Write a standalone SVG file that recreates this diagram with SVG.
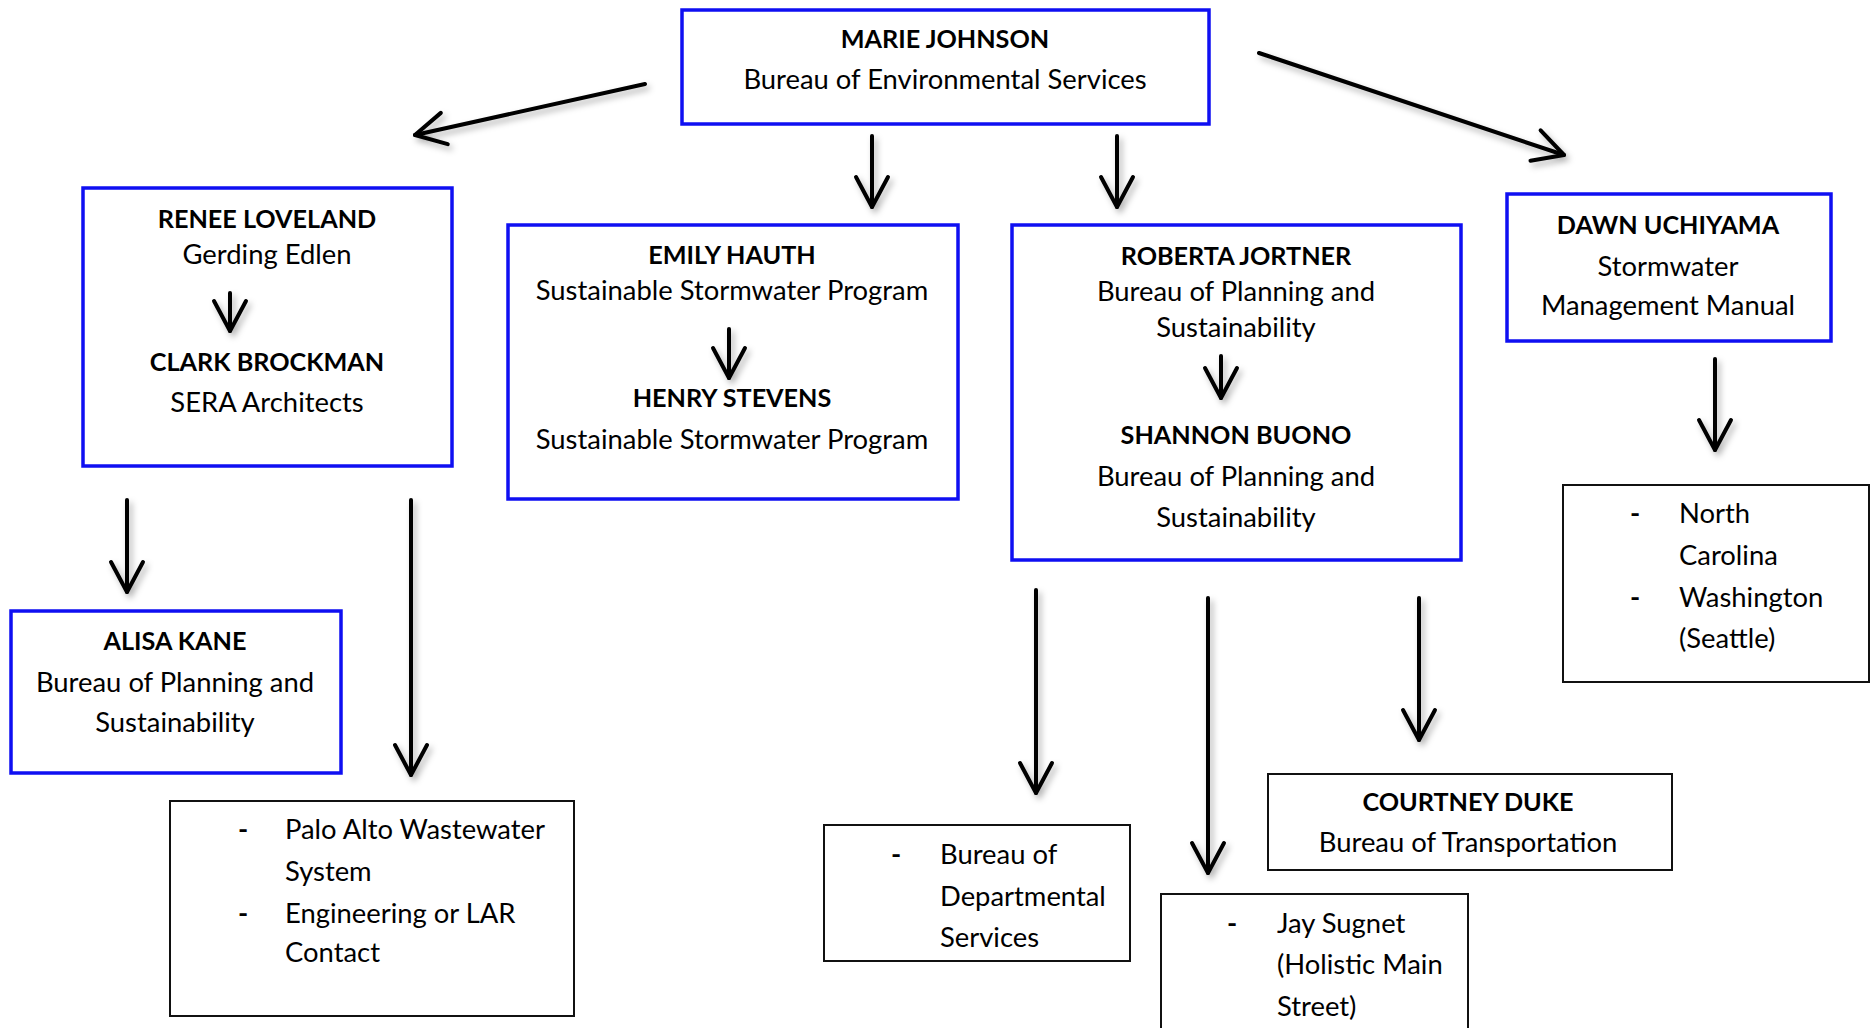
<svg xmlns="http://www.w3.org/2000/svg" width="1875" height="1028" viewBox="0 0 1875 1028">
<style>
.t{font-family:Lato,"Open Sans","Liberation Sans",sans-serif;font-size:27.4px;fill:#000}
.c{text-anchor:middle}
.b{font-weight:700;font-size:25.2px}
.d{font-weight:700}
.blue{fill:#fff;stroke:#0f0ff2;stroke-width:3.5}
.blk{fill:#fff;stroke:#111;stroke-width:2}
.ar{fill:none;stroke:#000;stroke-width:4;stroke-linecap:round;marker-end:url(#v)}
</style>
<defs>
<marker id="v" markerUnits="userSpaceOnUse" viewBox="0 0 40 40" markerWidth="40" markerHeight="40" refX="36" refY="20" orient="auto">
<path d="M6,4 L36,20 L6,36" fill="none" stroke="#000" stroke-width="4" stroke-linecap="round" stroke-linejoin="round"/>
</marker>
<filter id="sh" x="-50%" y="-50%" width="200%" height="200%">
<feDropShadow dx="3" dy="4" stdDeviation="3" flood-color="#000" flood-opacity="0.3"/>
</filter>
</defs>
<rect width="1875" height="1028" fill="#fff"/>

<g id="marie">
<rect class="blue" x="682" y="10" width="527" height="114"/>
<text class="t c b" x="945" y="48">MARIE JOHNSON</text>
<text class="t c" x="945" y="89">Bureau of Environmental Services</text>
</g>

<g id="renee">
<rect class="blue" x="83" y="188" width="369" height="278"/>
<text class="t c b" x="267" y="228">RENEE LOVELAND</text>
<text class="t c" x="267" y="264">Gerding Edlen</text>
<text class="t c b" x="267" y="371">CLARK BROCKMAN</text>
<text class="t c" x="267" y="412">SERA Architects</text>
</g>

<g id="emily">
<rect class="blue" x="508" y="225" width="450" height="274"/>
<text class="t c b" x="732" y="264">EMILY HAUTH</text>
<text class="t c" x="732" y="300">Sustainable Stormwater Program</text>
<text class="t c b" x="732" y="407">HENRY STEVENS</text>
<text class="t c" x="732" y="449">Sustainable Stormwater Program</text>
</g>

<g id="roberta">
<rect class="blue" x="1012" y="225" width="449" height="335"/>
<text class="t c b" x="1236" y="265">ROBERTA JORTNER</text>
<text class="t c" x="1236" y="301">Bureau of Planning and</text>
<text class="t c" x="1236" y="337">Sustainability</text>
<text class="t c b" x="1236" y="444">SHANNON BUONO</text>
<text class="t c" x="1236" y="486">Bureau of Planning and</text>
<text class="t c" x="1236" y="527">Sustainability</text>
</g>

<g id="dawn">
<rect class="blue" x="1507" y="194" width="324" height="147"/>
<text class="t c b" x="1668" y="234">DAWN UCHIYAMA</text>
<text class="t c" x="1668" y="276">Stormwater</text>
<text class="t c" x="1668" y="315">Management Manual</text>
</g>

<g id="alisa">
<rect class="blue" x="11" y="611" width="330" height="162"/>
<text class="t c b" x="175" y="650">ALISA KANE</text>
<text class="t c" x="175" y="692">Bureau of Planning and</text>
<text class="t c" x="175" y="732">Sustainability</text>
</g>

<g id="courtney">
<rect class="blk" x="1268" y="774" width="404" height="96"/>
<text class="t c b" x="1468" y="811">COURTNEY DUKE</text>
<text class="t c" x="1468" y="852">Bureau of Transportation</text>
</g>

<g id="nc-list">
<rect class="blk" x="1563" y="485" width="306" height="197"/>
<text class="t d" x="1630" y="523">-</text>
<text class="t" x="1679" y="523">North</text>
<text class="t" x="1679" y="565">Carolina</text>
<text class="t d" x="1630" y="607">-</text>
<text class="t" x="1679" y="607">Washington</text>
<text class="t" x="1679" y="648">(Seattle)</text>
</g>

<g id="palo-list">
<rect class="blk" x="170" y="801" width="404" height="215"/>
<text class="t d" x="238" y="839">-</text>
<text class="t" x="285" y="839">Palo Alto Wastewater</text>
<text class="t" x="285" y="881">System</text>
<text class="t d" x="238" y="923">-</text>
<text class="t" x="285" y="923">Engineering or LAR</text>
<text class="t" x="285" y="962">Contact</text>
</g>

<g id="dept-list">
<rect class="blk" x="824" y="825" width="306" height="136"/>
<text class="t d" x="891" y="864">-</text>
<text class="t" x="940" y="864">Bureau of</text>
<text class="t" x="940" y="906">Departmental</text>
<text class="t" x="940" y="947">Services</text>
</g>

<g id="jay-list">
<rect class="blk" x="1161" y="894" width="307" height="150"/>
<text class="t d" x="1227" y="933">-</text>
<text class="t" x="1277" y="933">Jay Sugnet</text>
<text class="t" x="1277" y="974">(Holistic Main</text>
<text class="t" x="1277" y="1016">Street)</text>
</g>

<g id="connectors" filter="url(#sh)">
<line class="ar" x1="645" y1="84" x2="415" y2="135"/>
<line class="ar" x1="872" y1="136" x2="872" y2="207"/>
<line class="ar" x1="1117" y1="136" x2="1117" y2="207"/>
<line class="ar" x1="1259" y1="53" x2="1564" y2="155"/>
<line class="ar" x1="230" y1="293" x2="230" y2="331"/>
<line class="ar" x1="729" y1="329" x2="729" y2="378"/>
<line class="ar" x1="1221" y1="356" x2="1221" y2="398"/>
<line class="ar" x1="1715" y1="359" x2="1715" y2="450"/>
<line class="ar" x1="127" y1="500" x2="127" y2="592"/>
<line class="ar" x1="411" y1="500" x2="411" y2="775"/>
<line class="ar" x1="1036" y1="590" x2="1036" y2="793"/>
<line class="ar" x1="1208" y1="598" x2="1208" y2="873"/>
<line class="ar" x1="1419" y1="598" x2="1419" y2="740"/>
</g>
</svg>
